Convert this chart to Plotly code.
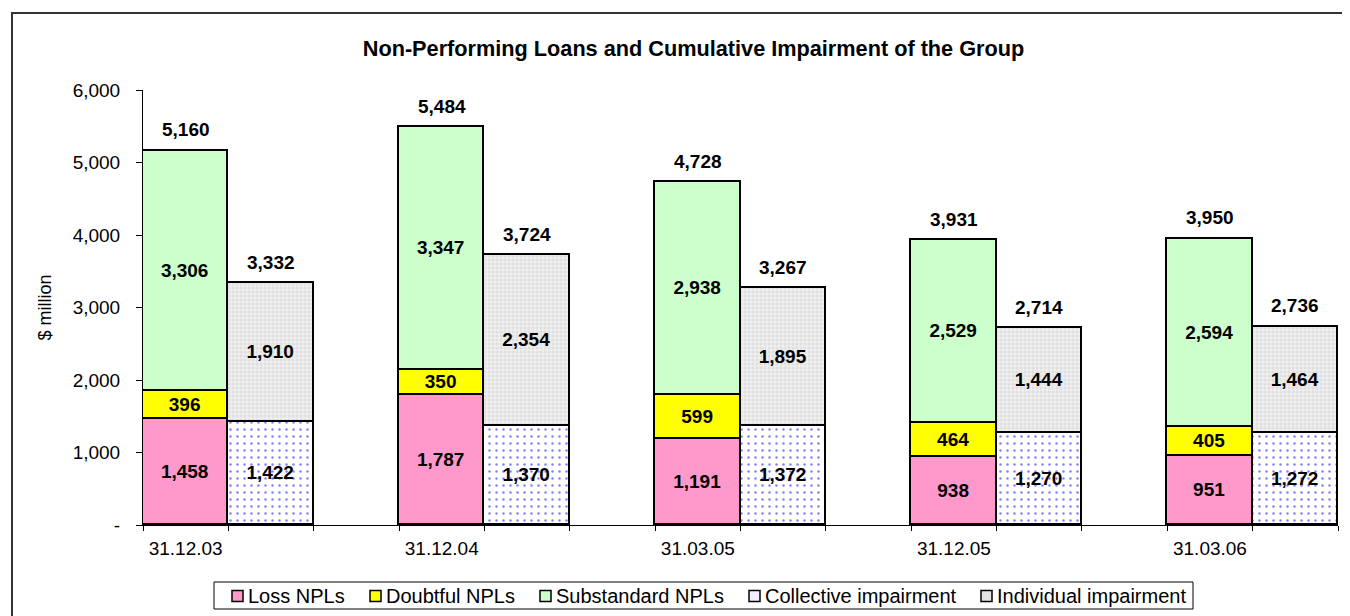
import plotly.graph_objects as go

# ---- data ----
periods = ["31.12.03", "31.12.04", "31.03.05", "31.12.05", "31.03.06"]
series_names = ["Loss NPLs", "Doubtful NPLs", "Substandard NPLs",
                "Collective impairment", "Individual impairment"]
loss_npls = [1458, 1787, 1191, 938, 951]
doubtful_npls = [396, 350, 599, 464, 405]
substandard_npls = [3306, 3347, 2938, 2529, 2594]
collective_imp = [1422, 1370, 1372, 1270, 1272]
individual_imp = [1910, 2354, 1895, 1444, 1464]
y_ticks = [0, 1000, 2000, 3000, 4000, 5000, 6000]
y_ticktext = ["-", "1,000", "2,000", "3,000", "4,000", "5,000", "6,000"]

# ---- geometry (page has an 8px body margin) ----
OFF = 8
W, H = 1350 - OFF, 616 - OFF
L, R, T, B = 143 - OFF, 12, 90 - OFF, 616 - 525
PW, PH = W - L - R, H - T - B


def px(xp):  # page x -> paper x
    return (xp - OFF - L) / PW


def py(yp):  # page y -> paper y
    return (H - B - (yp - OFF)) / PH


npl_x = [3 * i for i in range(len(periods))]
imp_x = [3 * i + 1 for i in range(len(periods))]
npl_tot = [a + b + c for a, b, c in zip(loss_npls, doubtful_npls, substandard_npls)]
imp_tot = [a + b for a, b in zip(collective_imp, individual_imp)]

FONT = "Liberation Sans, Arial, sans-serif"
line = dict(color="black", width=1.7)
tfont = dict(family=FONT, size=19, color="black")

colors = ["#FF99CC", "#FFFF00", "#CCFFCC", "white", "#EDEDED"]
legend_sym_colors = ["#FF99CC", "#FFFF00", "#CCFFCC", "#F0F0FF", "#E4E4E4"]
patterns = [None, None, None,
            dict(shape=".", fgcolor="#0000FF", bgcolor="white", size=7, solidity=0.1, fillmode="overlay"),
            dict(shape=".", fgcolor="#D0D0D0", bgcolor="#EEEEEE", size=4, solidity=0.45, fillmode="overlay")]

fig = go.Figure()
series = [(npl_x, loss_npls), (npl_x, doubtful_npls), (npl_x, substandard_npls),
          (imp_x, collective_imp), (imp_x, individual_imp)]
for (x, y), name, c, pat in zip(series, series_names, colors, patterns):
    marker = dict(color=c, line=line)
    if pat:
        marker["pattern"] = pat
    fig.add_trace(go.Bar(
        name=name, x=x, y=y, width=1, marker=marker, showlegend=False,
        text=[f"<b>{v:,}</b>" for v in y], textposition="inside",
        insidetextanchor="middle", constraintext="none",
        textfont=tfont, hoverinfo="skip",
    ))

annotations = []
for xs, tots in ((npl_x, npl_tot), (imp_x, imp_tot)):
    for x, t in zip(xs, tots):
        annotations.append(dict(x=x, y=t, xref="x", yref="y", text=f"<b>{t:,}</b>",
                                showarrow=False, yshift=21, font=tfont))

shapes = [dict(type="rect", xref="paper", yref="paper",
               x0=px(12), x1=px(1360), y0=py(640), y1=py(13),
               line=dict(color="#333333", width=2), layer="below")]

# ---- custom legend (box, symbols, labels) ----
shapes.append(dict(type="rect", xref="paper", yref="paper", x0=px(214), x1=px(1193),
                   y0=py(609), y1=py(582), line=dict(color="black", width=1), fillcolor="white"))
sym_x = [232, 370, 540, 749, 981]
leg_cy = 596
for sx, name, c in zip(sym_x, series_names, legend_sym_colors):
    shapes.append(dict(type="rect", xref="paper", yref="paper", x0=px(sx), x1=px(sx + 11),
                       y0=py(leg_cy + 5.5), y1=py(leg_cy - 5.5),
                       line=dict(color="black", width=1.5), fillcolor=c))
    annotations.append(dict(x=px(sx + 14), y=py(leg_cy), xref="paper", yref="paper",
                            text=name, showarrow=False, xanchor="left", yanchor="middle",
                            font=dict(family=FONT, size=20, color="black")))

fig.update_layout(
    width=W, height=H,
    margin=dict(l=L, r=R, t=T, b=B),
    paper_bgcolor="white", plot_bgcolor="white",
    barmode="stack", bargap=0,
    title=dict(text="<b>Non-Performing Loans and Cumulative Impairment of the Group</b>",
               x=(693.5 - OFF) / W, xref="container", xanchor="center",
               y=1 - (48 - OFF) / H, yref="container", yanchor="middle",
               font=dict(family=FONT, size=21.7, color="black")),
    xaxis=dict(range=[-0.5, 3 * len(periods) - 1.5], tickvals=npl_x, ticktext=periods,
               ticks="", showline=True, linecolor="black", linewidth=1, ticklabelstandoff=6,
               showgrid=False, zeroline=False, tickfont=dict(family=FONT, size=19, color="black"),
               minor=dict(ticks="outside", tick0=-0.5, dtick=1, ticklen=5, tickcolor="black", showgrid=False)),
    yaxis=dict(range=[0, 6000], tickvals=y_ticks, ticktext=y_ticktext,
               ticks="outside", ticklen=6, tickcolor="black", showline=True, linecolor="black",
               linewidth=1, showgrid=False, zeroline=False, ticklabelstandoff=12,
               tickfont=dict(family=FONT, size=19, color="black"),
               title=dict(text="$ million", font=dict(family=FONT, size=18, color="black"), standoff=16)),
    annotations=annotations,
    shapes=shapes,
    showlegend=False,
)

fig.write_html("out.html")
